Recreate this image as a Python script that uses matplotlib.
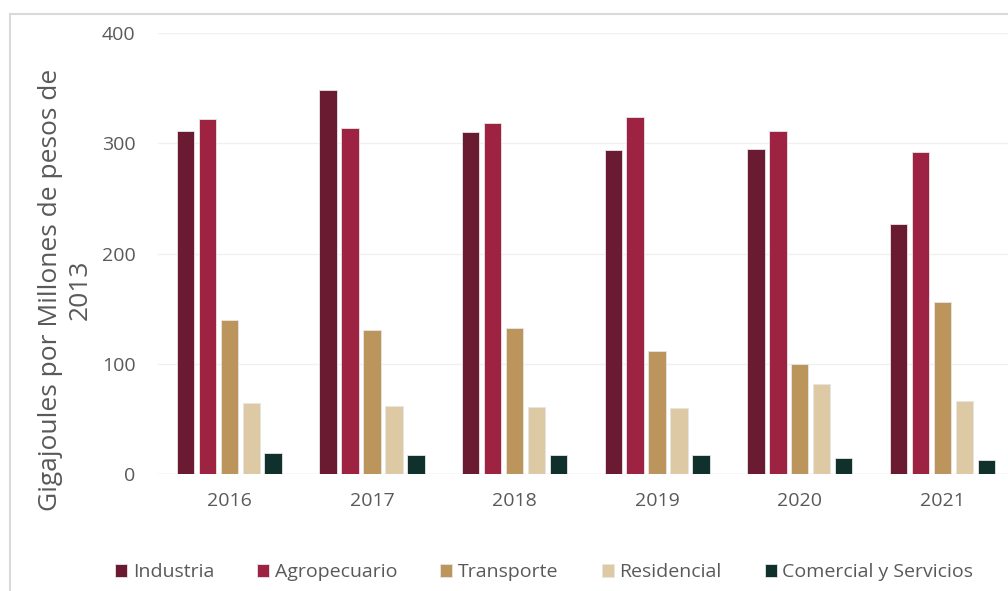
import numpy as np
import matplotlib
matplotlib.use('Agg')
import matplotlib.pyplot as plt
from matplotlib.lines import Line2D

years = ['2016', '2017', '2018', '2019', '2020', '2021']
sectores = ['Industria', 'Agropecuario', 'Transporte', 'Residencial', 'Comercial y Servicios']
industria = [311, 348, 310, 294, 295, 227]
agropecuario = [322, 314, 318, 324, 311, 292]
transporte = [140, 131, 132, 112, 100, 156]
residencial = [64, 62, 61, 60, 82, 66]
comercial = [19, 17, 17, 17, 14.5, 12.7]
colores = ['#6A1B31', '#9E2241', '#BC955C', '#DDC9A3', '#10312B']

plt.rcParams['font.family'] = ['Open Sans', 'DejaVu Sans']
gris = '#595959'

fig = plt.figure(figsize=(10.08, 5.91), dpi=100)
ax = fig.add_axes([0.1567, 0.198, 0.849, 0.746])

x = np.arange(len(years))
series = [industria, agropecuario, transporte, residencial, comercial]
step = 0.154
for i, (vals, col, name) in enumerate(zip(series, colores, sectores)):
    ax.bar(x + (i - 2) * step, vals, width=0.122, color=col, label=name,
           edgecolor='#E6E6E6', linewidth=0.6, zorder=3)

ax.set_xlim(-0.5, 5.5)
ax.set_ylim(0, 400)
ax.set_yticks([0, 100, 200, 300, 400])
ax.set_xticks(x)
ax.set_xticklabels(years)
ax.tick_params(axis='both', length=0, labelsize=14, labelcolor=gris)
ax.tick_params(axis='x', pad=13)
ax.tick_params(axis='y', pad=16)
ax.grid(axis='y', color='#F0F0F0', linewidth=1, zorder=0)
for s in ax.spines.values():
    s.set_visible(False)
ax.axhline(0, color='#E8E8E8', linewidth=1, zorder=2)

fig.text(0.0645, 0.509, 'Gigajoules por Millones de pesos de\n2013', rotation=90,
         ha='center', va='center', multialignment='center', fontsize=19, color=gris,
         linespacing=1.25)

fig.legend(loc='center', bbox_to_anchor=(0.54, 0.032), ncol=5, frameon=False,
           fontsize=14, labelcolor=gris, handlelength=0.62, handleheight=0.62,
           handletextpad=0.3, columnspacing=2.2)

# borde del recuadro
fig.add_artist(Line2D([0.01, 1.0], [0.976, 0.976], color='#D9D9D9', linewidth=1.5))
fig.add_artist(Line2D([0.01, 0.01], [0.0, 0.976], color='#D9D9D9', linewidth=1.5))

fig.savefig('out.png', dpi=100)
